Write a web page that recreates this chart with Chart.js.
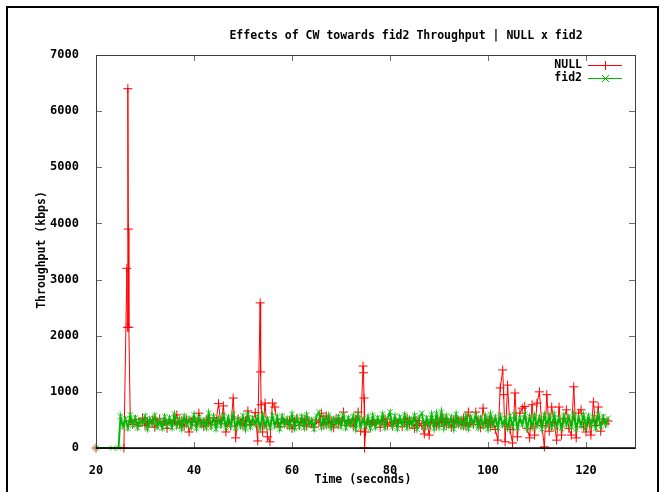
<!DOCTYPE html>
<html>
<head>
<meta charset="utf-8">
<script src="https://cdn.jsdelivr.net/npm/chart.js@4.4.1/dist/chart.umd.min.js"></script>
<style>
  body { margin: 0; background: #fff; }
  #wrap { position: relative; width: 660px; height: 492px; overflow: hidden; background: #fff; }
  #frame { position: absolute; left: 6px; top: 6px; width: 649px; height: 600px; border: 2px solid #000; }
  canvas { position: absolute; left: 0; top: 0; }
</style>
</head>
<body>
<div id="wrap">
  <div id="frame"></div>
  <canvas id="chart" width="660" height="492"></canvas>
</div>
<script>
// tick labels
const xTicks = [20, 40, 60, 80, 100, 120];
const yTicks = [0, 1000, 2000, 3000, 4000, 5000, 6000, 7000];

// samples are every 0.5 s once the flow is running
const sampleStep = 0.5;

// fid2 : start of the flow
const fid2LeadTime = [20, 23.4, 24.6];
const fid2LeadVal = [0, 0, 0];
const fid2Start = 25.0;
const fid2Vals = [
  560, 380, 520, 350, 590, 400, 540, 360, 510, 420,
  570, 340, 530, 410, 580, 370, 500, 350, 560, 390,
  540, 360, 600, 380, 520, 340, 570, 400, 530, 370,
  590, 350, 550, 390, 510, 360, 620, 380, 560, 340,
  530, 400, 580, 360, 550, 390, 600, 350, 520, 380,
  570, 340, 600, 370, 540, 410, 560, 350, 590, 380,
  520, 360, 580, 390, 550, 340, 570, 400, 530, 370,
  600, 350, 540, 380, 560, 360, 590, 400, 510, 340,
  570, 640, 370, 550, 390, 580, 350, 530, 410, 560,
  380, 590, 360, 540, 400, 570, 340, 600, 370, 520,
  390, 560, 350, 580, 370, 540, 410, 600, 360, 530,
  640, 380, 570, 350, 550, 400, 590, 360, 530, 390,
  580, 340, 560, 620, 370, 540, 390, 600, 350, 610,
  380, 640, 360, 570, 390, 550, 340, 600, 400, 530,
  370, 580, 350, 560, 410, 590, 360, 540, 380, 570,
  340, 600, 390, 550, 360, 580, 400, 530, 350, 570,
  380, 590, 360, 540, 410, 600, 350, 560, 370, 580,
  390, 550, 340, 590, 400, 570, 360, 600, 380, 540,
  350, 580, 410, 560, 370, 600, 340, 550, 390, 590,
  360, 570, 400, 540, 350, 600, 380, 560, 410, 530
];

// NULL : start with the big burst
const nullLeadTime = [20, 25.7, 26.3, 26.4, 26.5, 26.6, 26.7];
const nullLeadVal = [0, 0, 3200, 2150, 6400, 3900, 2150];
const nullStart = 27.0;
const nullVals = [
  480, 420, 510, 390, 460, 530, 400, 470, 440, 500,
  370, 460, 520, 410, 480, 350, 500, 430, 470, 590,
  420, 480, 390, 510, 285, 460, 530, 410, 620, 440,
  380, 500, 450, 410, 540, 470, 790, 430, 750, 285,
  460, 390, 890, 180, 520, 440, 400, 480, 660, 420,
  470, 630, 125, 2585, 285, 800, 200, 110, 800, 730,
  440, 380, 510, 460, 420, 490, 350, 470, 530, 400,
  460, 510, 390, 480, 430, 370, 500, 450, 620, 410,
  570, 440, 480, 360, 520, 430, 470, 640, 400, 490,
  450, 390, 510, 640, 300, 1460, 285, 480, 420, 460,
  430, 500, 370, 470, 520, 410, 460, 390, 480, 440,
  510, 380, 460, 530, 420, 470, 350, 490, 440, 400,
  250, 470, 230, 510, 430, 390, 480, 450, 520, 410,
  460, 370, 500, 440, 480, 410, 530, 390, 640, 450,
  420, 640, 480, 360, 710, 440, 500, 390, 470, 330,
  140, 1070, 1390, 110, 1120, 330, 90, 980, 200, 620,
  710, 740, 350, 180, 770, 230, 800, 1000, 400, 20,
  950, 300, 730, 460, 140, 730, 230, 520, 680, 350,
  230, 1090, 180, 620, 680, 380, 285, 500, 230, 820,
  400, 730, 300, 520, 430, 480
];
// extra NULL samples between the regular ones (inside the spikes)
const nullExtraTime = [53.6, 53.7, 74.6, 74.7, 74.8, 103.2];
const nullExtraVal = [1355, 770, 1340, 890, 0, 950];

function buildPoints(leadT, leadV, start, vals, extraT, extraV) {
  const pts = leadT.map((t, i) => ({ x: t, y: leadV[i] }));
  vals.forEach((v, i) => pts.push({ x: start + i * sampleStep, y: v }));
  extraT.forEach((t, i) => pts.push({ x: t, y: extraV[i] }));
  pts.sort((a, b) => a.x - b.x);
  return pts;
}

const nullPoints = buildPoints(nullLeadTime, nullLeadVal, nullStart, nullVals, nullExtraTime, nullExtraVal);
const fid2Points = buildPoints(fid2LeadTime, fid2LeadVal, fid2Start, fid2Vals, [], []);

const monoFont = '"DejaVu Sans Mono", monospace';
const red = '#ff0000';
const green = '#00b800';

// frame, mirrored inward ticks, title, axis titles in gnuplot style
const gnuplotDeco = {
  id: 'gnuplotDeco',
  afterDatasetsDraw(chart) {
    const ctx = chart.ctx;
    const a = chart.chartArea;
    const xs = chart.scales.x;
    const ys = chart.scales.y;
    ctx.save();

    // ticks
    ctx.strokeStyle = '#707070';
    ctx.lineWidth = 1;
    ctx.beginPath();
    xTicks.forEach(v => {
      const px = Math.round(xs.getPixelForValue(v)) + 0.5;
      ctx.moveTo(px, a.bottom); ctx.lineTo(px, a.bottom - 6);
      ctx.moveTo(px, a.top); ctx.lineTo(px, a.top + 6);
    });
    yTicks.forEach(v => {
      const py = Math.round(ys.getPixelForValue(v)) + 0.5;
      ctx.moveTo(a.left, py); ctx.lineTo(a.left + 6, py);
      ctx.moveTo(a.right, py); ctx.lineTo(a.right - 6, py);
    });
    ctx.stroke();

    // border
    ctx.strokeStyle = '#404040';
    ctx.strokeRect(Math.round(a.left) + 0.5, Math.round(a.top) + 0.5,
      Math.round(a.right - a.left), Math.round(a.bottom - a.top));
    ctx.strokeStyle = '#000';
    ctx.lineWidth = 1.5;
    ctx.beginPath();
    ctx.moveTo(a.left, a.bottom); ctx.lineTo(a.right, a.bottom);
    ctx.stroke();

    // title + axis titles
    ctx.fillStyle = '#000';
    ctx.font = 'bold 11.5px ' + monoFont;
    ctx.textAlign = 'center';
    ctx.textBaseline = 'middle';
    ctx.fillText('Effects of CW towards fid2 Throughput | NULL x fid2', 406, 36);
    ctx.fillText('Time (seconds)', 363, 480);
    ctx.save();
    ctx.translate(42, 250);
    ctx.rotate(-Math.PI / 2);
    ctx.fillText('Throughput (kbps)', 0, 0);
    ctx.restore();
    ctx.restore();
  },
  afterDraw(chart) {
    // key in the top right corner: label, then the line sample with its marker
    const ctx = chart.ctx;
    const entries = [
      { label: 'NULL', color: red, style: 'plus', y: 65 },
      { label: 'fid2', color: green, style: 'x', y: 78 }
    ];
    ctx.save();
    ctx.font = 'bold 11.5px ' + monoFont;
    ctx.textBaseline = 'middle';
    ctx.textAlign = 'right';
    entries.forEach(e => {
      ctx.fillStyle = '#000';
      ctx.fillText(e.label, 582, e.y);
      ctx.fillStyle = e.color;
      ctx.fillRect(588, e.y, 34, 1);
      if (e.style === 'plus') {
        ctx.fillRect(605, e.y - 4, 1, 9);
      } else {
        ctx.strokeStyle = e.color;
        ctx.lineWidth = 1;
        ctx.beginPath();
        ctx.moveTo(602, e.y - 3); ctx.lineTo(609, e.y + 4);
        ctx.moveTo(602, e.y + 4); ctx.lineTo(609, e.y - 3);
        ctx.stroke();
      }
    });
    ctx.restore();
  }
};

const ctxChart = document.getElementById('chart').getContext('2d');
new Chart(ctxChart, {
  type: 'line',
  data: {
    datasets: [
      {
        label: 'NULL',
        data: nullPoints,
        order: 2,
        borderColor: red,
        backgroundColor: red,
        borderWidth: 1,
        pointStyle: 'cross',
        pointRadius: 4.5,
        pointBorderWidth: 1,
        pointBorderColor: red,
        tension: 0,
        clip: false
      },
      {
        label: 'fid2',
        data: fid2Points,
        order: 1,
        borderColor: green,
        backgroundColor: green,
        borderWidth: 2,
        pointStyle: 'crossRot',
        pointRadius: 4,
        pointBorderWidth: 1,
        pointBorderColor: 'rgba(40,200,40,0.85)',
        tension: 0,
        clip: false
      }
    ]
  },
  options: {
    responsive: false,
    animation: false,
    devicePixelRatio: 1,
    layout: { padding: { left: 0, top: 55, right: 25, bottom: 0 } },
    plugins: {
      legend: { display: false },
      title: { display: false },
      tooltip: { enabled: false }
    },
    scales: {
      x: {
        type: 'linear',
        min: 20,
        max: 130,
        grid: { display: false },
        border: { display: false },
        afterBuildTicks: axis => { axis.ticks = xTicks.map(v => ({ value: v })); },
        afterFit: scale => { scale.height = 44; },
        ticks: {
          padding: 8,
          maxRotation: 0,
          color: '#000',
          font: { family: monoFont, size: 12, weight: 'bold' },
          callback: v => String(v)
        }
      },
      y: {
        min: 0,
        max: 7000,
        grid: { display: false },
        border: { display: false },
        afterBuildTicks: axis => { axis.ticks = yTicks.map(v => ({ value: v })); },
        afterFit: scale => { scale.width = 96; },
        ticks: {
          padding: 9,
          color: '#000',
          font: { family: monoFont, size: 12, weight: 'bold' },
          callback: v => String(v)
        }
      }
    }
  },
  plugins: [gnuplotDeco]
});
</script>
</body>
</html>
